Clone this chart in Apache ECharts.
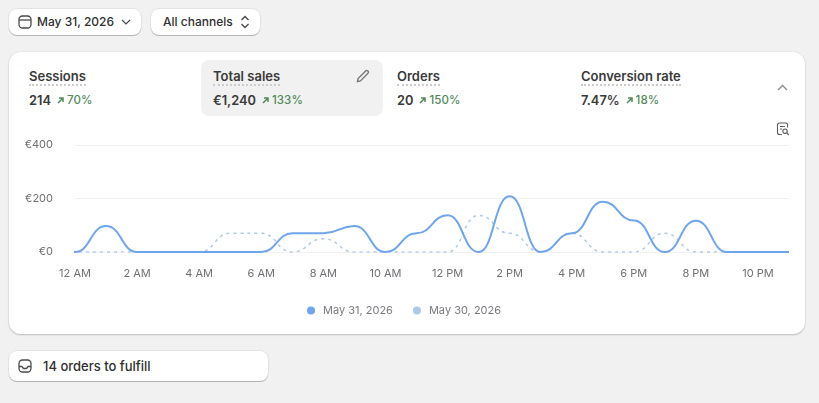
<!DOCTYPE html>
<html>
<head>
<meta charset="utf-8">
<style>
  html, body { margin: 0; padding: 0; width: 819px; height: 403px; overflow: hidden; background: #f1f1f1; font-family: Inter, "Noto Sans", sans-serif; color: #303030; }
  .abs { position: absolute; }
  .btn { position: absolute; background: #fff; border-radius: 8px; box-shadow: 0 1px 0 #b5b5b5, 0 0 0 1px #e3e3e3; font-size: 12px; font-weight: 500; line-height: 26px; box-sizing: border-box; white-space: nowrap; }
  #card { position: absolute; left: 9px; top: 52px; width: 796px; height: 282px; background: #fff; border-radius: 12px; box-shadow: 0 1px 2px rgba(0,0,0,.2), 0 0 0 1px #eaeaea; }
  #active { position: absolute; left: 201px; top: 60px; width: 182px; height: 56px; background: #f1f1f1; border-radius: 8px; }
  .metric { position: absolute; top: 68px; white-space: nowrap; }
  .metric .name { display: block; width: fit-content; font-size: 13px; font-weight: 600; line-height: 16px; border-bottom: 2px dotted #ccc; height: 16px; color: #3a3a3a; }
  .metric .row { display: flex; align-items: center; margin-top: 7px; font-size: 12.8px; font-weight: 600; line-height: 15px; color: #3a3a3a; }
  .metric .delta { display: flex; align-items: center; margin-left: 5px; font-size: 11.5px; font-weight: 500; color: #4f8a58; letter-spacing: .1px; }
  .metric svg { margin-right: 2px; }
  #chart { position: absolute; left: 0; top: 130px; width: 819px; height: 200px; }
  svg { display: block; }
</style>
</head>
<body>
<div class="btn" style="left:9px;top:9px;width:132px;height:26px;padding-left:28px">May 31, 2026</div>
<svg class="abs" style="left:18px;top:15px" width="14" height="14" viewBox="0 0 14 14" fill="none" stroke="#4a4a4a" stroke-width="1.3"><rect x="1" y="1" width="12" height="12" rx="3.5"/><path d="M1 5h12"/></svg>
<svg class="abs" style="left:121px;top:19px" width="10" height="7" viewBox="0 0 10 7" fill="none" stroke="#4a4a4a" stroke-width="1.2"><path d="M1 1l4 4 4-4"/></svg>
<div class="btn" style="left:151px;top:9px;width:109px;height:26px;padding-left:12px">All channels</div>
<svg class="abs" style="left:240px;top:15px" width="10" height="14" viewBox="0 0 10 14" fill="none" stroke="#4a4a4a" stroke-width="1.4"><path d="M1.5 5L5 1.5 8.5 5M1.5 9L5 12.5 8.5 9"/></svg>

<div id="card"></div>
<div id="active"></div>
<div id="metrics"></div>
<svg class="abs" style="left:356px;top:69px" width="14" height="14" viewBox="0 0 14 14" fill="none" stroke="#7a7a7a" stroke-width="1.4"><path d="M1.500 12.500l.6-3L9.600 2a1.600 1.600 0 0 1 2.300 2.300L4.500 11.900z"/></svg>
<svg class="abs" style="left:777px;top:84px" width="11" height="7" viewBox="0 0 11 7" fill="none" stroke="#8a8a8a" stroke-width="1.3"><path d="M1 6l4.500-4.500L10 6"/></svg>
<svg class="abs" style="left:776px;top:122px" width="14" height="14" viewBox="0 0 14 14" fill="none" stroke="#5c5c5c" stroke-width="1.1"><path d="M6 12.500H3.500A2 2 0 0 1 1.500 10.500V3A2 2 0 0 1 3.500 1h6A2 2 0 0 1 11.500 3v2.500M4 4.500h5M4 7h2"/><circle cx="9" cy="9.200" r="2.200"/><path d="M10.800 11l2 2"/></svg>

<div id="chart"></div>

<div class="btn" style="left:9px;top:351px;width:259px;height:30px;padding-left:34px;line-height:30px;font-size:13px">14 orders to fulfill</div>
<svg class="abs" style="left:18px;top:359px" width="14" height="14" viewBox="0 0 14 14" fill="none" stroke="#4a4a4a" stroke-width="1.3"><rect x="1" y="1" width="12" height="12" rx="3.500"/><path d="M1 7.500h3l1.500 2h3l1.500-2h3"/></svg>

<script src="https://cdn.jsdelivr.net/npm/echarts@6/dist/echarts.min.js"></script>
<script>
// Hourly labels for the day; every second one is shown on the axis.
const hours = ['12 AM','1 AM','2 AM','3 AM','4 AM','5 AM','6 AM','7 AM','8 AM','9 AM','10 AM','11 AM',
               '12 PM','1 PM','2 PM','3 PM','4 PM','5 PM','6 PM','7 PM','8 PM','9 PM','10 PM','11 PM'];
// Total sales per hour, in euros.
const salesCurrent  = [0,97,0,0,0,0,0,70,70,97,0,70,137,0,208,0,70,188,118,0,117,0,0,0];
const salesPrevious = [0,0,0,0,0,70,70,0,50,0,0,0,0,137,70,0,70,0,0,70,0,0,0,0];
const currentLabel = 'May 31, 2026';
const previousLabel = 'May 30, 2026';

// Summary tiles above the chart.
const metricNames  = ['Sessions','Total sales','Orders','Conversion rate'];
const metricValues = ['214','€1,240','20','7.47%'];
const metricDeltas = ['70%','133%','150%','18%'];
const metricLefts  = [29,213,397,581];

const arrow = '<svg width="9" height="9" viewBox="0 0 9 9" fill="none" stroke="#4f8a58" stroke-width="1.5"><path d="M2 7l5-5M3 2h4v4"/></svg>';
document.getElementById('metrics').innerHTML = metricNames.map((n, i) =>
  `<div class="metric" style="left:${metricLefts[i]}px"><span class="name">${n}</span>` +
  `<div class="row">${metricValues[i]}<span class="delta">${arrow}${metricDeltas[i]}</span></div></div>`
).join('');

// Pair each value with its hour; a resting point before midnight lets the
// curve leave the baseline as softly as it does elsewhere (clipped by the grid).
const toPoints = values => [[-1, 0]].concat(values.map((v, h) => [h, v]));

const chart = echarts.init(document.getElementById('chart'));
chart.setOption({
  animation: false,
  textStyle: { fontFamily: 'Inter' },
  grid: { left: 75, top: 15, width: 714, height: 107 },
  legend: {
    left: 302, top: 170, icon: 'circle', itemWidth: 8, itemHeight: 8, itemGap: 20,
    textStyle: { color: '#7b7b80', fontSize: 11, fontFamily: 'Inter', padding: [0, 0, 0, 3] },
    data: [currentLabel, previousLabel]
  },
  xAxis: {
    type: 'value', min: 0, max: 23, interval: 2,
    splitLine: { show: false },
    axisLine: { show: false }, axisTick: { show: false },
    axisLabel: { color: '#707075', fontSize: 11, margin: 16, hideOverlap: false, showMaxLabel: false, formatter: v => hours[v] }
  },
  yAxis: {
    type: 'value', min: 0, max: 400, interval: 200,
    axisLine: { show: false }, axisTick: { show: false },
    axisLabel: { color: '#707075', fontSize: 11, margin: 22, formatter: v => '€' + v },
    splitLine: { lineStyle: { color: '#f1f1f1', width: 1 } }
  },
  series: [
    { name: previousLabel, type: 'line', data: toPoints(salesPrevious), z: 2, smooth: 0.5, smoothMonotone: 'x', showSymbol: false,
      itemStyle: { color: '#aec9ec' }, lineStyle: { color: '#aec9ec', width: 1.5, type: [3, 4] } },
    { name: currentLabel, type: 'line', data: toPoints(salesCurrent), z: 3, smooth: 0.5, smoothMonotone: 'x', showSymbol: false,
      itemStyle: { color: '#6fa5ea' }, lineStyle: { color: '#6fa5ea', width: 2 } }
  ]
});
</script>
</body>
</html>
